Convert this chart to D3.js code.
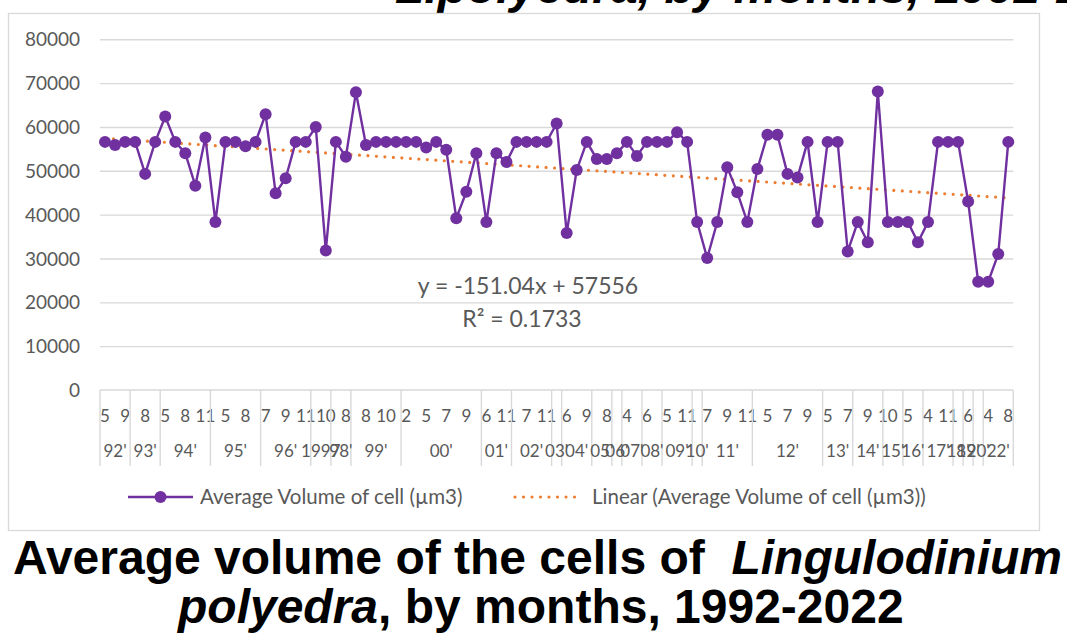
<!DOCTYPE html>
<html>
<head>
<meta charset="utf-8">
<script src="https://cdn.jsdelivr.net/npm/d3@7"></script>
<style>
  body { margin: 0; background: #fff; }
  svg { display: block; }
  .ttl { font-family: "Liberation Sans", Arial, sans-serif; font-weight: bold; white-space: pre; }
  .lab { font-family: Lato, "Open Sans", sans-serif; fill: #595959; }
</style>
</head>
<body>
<script>
// valores promedio por muestra (91 muestras, 1992-2022)
var values = [56600,55900,56600,56600,49300,56600,62400,56600,54000,46600,
  57600,38300,56600,56600,55600,56600,62900,44900,48300,56600,
  56600,60000,31800,56600,53200,67900,55900,56600,56600,56600,
  56600,56600,55300,56600,54800,39200,45200,54000,38300,54000,
  52000,56600,56600,56600,56600,60800,35800,50200,56600,52700,
  52700,54000,56600,53400,56600,56600,56600,58800,56600,38300,
  30100,38300,50800,45100,38300,50400,58200,58200,49300,48500,
  56600,38300,56600,56600,31600,38300,33700,68100,38300,38300,
  38300,33700,38300,56600,56600,56600,43000,24700,24700,31000,
  56600];

// etiquetas de mes visibles (una de cada dos categorias)
var monthTicks = ["5","9","8","5","8","11","5","8","7","9","11","10","8","8","10","2",
  "5","7","9","6","11","7","11","6","9","8","4","6","5","11","7","9","11",
  "5","7","9","5","7","9","10","5","4","11","6","4","8"];

// grupos de años y numero de muestras en cada uno
var yearLabels = ["92'","93'","94'","95'","96'","1997","98'","99'","00'","01'","02'","03'",
  "04'","05'","06'","07'","08'","09'","10'","11'","12'","13'","14'","15'","16'","17'",
  "18'","19'","20'","22'"];
var yearSizes = [3,3,5,5,5,2,2,5,8,3,4,1,3,2,1,2,2,3,1,5,7,3,3,2,2,3,1,1,1,3];

// tendencia lineal
var slope = -151.04, intercept = 57556;
var eqText = "y = -151.04x + 57556";
var r2Text = "R² = 0.1733";

var seriesName = "Average Volume of cell (µm3)";

var width = 1067, height = 637;
var purple = "#7030a0", orange = "#ed7d31", grid = "#d9d9d9";

var svg = d3.select("body").append("svg")
  .attr("width", width)
  .attr("height", height);

svg.append("rect").attr("width", width).attr("height", height).attr("fill", "#fff");

// titulo cortado de la diapositiva anterior
svg.append("text")
  .attr("class", "ttl")
  .attr("x", 395).attr("y", 3)
  .attr("font-size", 48)
  .attr("font-style", "italic")
  .text("L.polyedra, by months, 1992-2022");

// marco del grafico
svg.append("rect")
  .attr("x", 8.5).attr("y", 13.5)
  .attr("width", 1031).attr("height", 517)
  .attr("fill", "#fff")
  .attr("stroke", grid)
  .attr("stroke-width", 1.3);

var idx = d3.range(values.length);
var x = d3.scaleBand().domain(idx).range([100, 1013.3]).padding(0);
var bw = x.bandwidth();
var cx = function(i) { return x(i) + bw / 2; };
var y = d3.scaleLinear().domain([0, 80000]).range([390, 39.3]);

// lineas de cuadricula
svg.append("g")
  .attr("transform", "translate(100,0)")
  .call(d3.axisLeft(y).tickValues(d3.range(10000, 80001, 10000)).tickSize(-913.3).tickFormat(""))
  .call(function(g) { g.select(".domain").remove(); })
  .selectAll("line").attr("stroke", grid).attr("stroke-width", 1.4);

// eje y
svg.append("g")
  .attr("transform", "translate(100,0)")
  .call(d3.axisLeft(y).tickValues(d3.range(0, 80001, 10000)).tickSize(0).tickPadding(20)
    .tickFormat(d3.format("d")))
  .call(function(g) { g.select(".domain").remove(); })
  .selectAll("text")
  .attr("class", "lab")
  .attr("font-size", 19)
  .attr("dy", "0.35em");

// eje x: linea base
svg.append("line")
  .attr("x1", 100).attr("x2", 1013.3)
  .attr("y1", y(0)).attr("y2", y(0))
  .attr("stroke", grid).attr("stroke-width", 1.4);

// etiquetas de mes
var xAxis = d3.axisBottom(x)
  .tickValues(idx.filter(function(i) { return i % 2 === 0; }))
  .tickSize(0).tickPadding(0)
  .tickFormat(function(i) { return monthTicks[i / 2]; });
svg.append("g")
  .attr("transform", "translate(0," + y(0) + ")")
  .call(xAxis)
  .call(function(g) { g.select(".domain").remove(); })
  .selectAll("text")
  .attr("class", "lab")
  .attr("font-size", 17)
  .attr("dy", null)
  .attr("y", 31.5);

// grupos de años
var starts = [0];
yearSizes.forEach(function(s, k) { starts.push(starts[k] + s); });
var bounds = starts.map(function(s) { return s < values.length ? x(s) : x(values.length - 1) + bw; });

svg.append("g").selectAll("line")
  .data(bounds)
  .join("line")
  .attr("x1", function(d) { return d; }).attr("x2", function(d) { return d; })
  .attr("y1", y(0)).attr("y2", 466)
  .attr("stroke", grid).attr("stroke-width", 1.4);

svg.append("g").selectAll("text")
  .data(yearLabels)
  .join("text")
  .attr("class", "lab")
  .attr("font-size", 17)
  .attr("text-anchor", "middle")
  .attr("x", function(d, k) { return (bounds[k] + bounds[k + 1]) / 2; })
  .attr("y", 456.5)
  .text(function(d) { return d; });

// linea de tendencia
var trend = [1, values.length].map(function(n) { return { i: n - 1, v: slope * n + intercept }; });
svg.append("path")
  .datum(trend)
  .attr("fill", "none")
  .attr("stroke", orange)
  .attr("stroke-width", 3.2)
  .attr("stroke-linecap", "round")
  .attr("stroke-dasharray", "0 8.5")
  .attr("d", d3.line().x(function(d) { return cx(d.i); }).y(function(d) { return y(d.v); }));

// serie
svg.append("path")
  .datum(values)
  .attr("fill", "none")
  .attr("stroke", purple)
  .attr("stroke-width", 2.4)
  .attr("d", d3.line().x(function(d, i) { return cx(i); }).y(function(d) { return y(d); }));

svg.append("g").selectAll("circle")
  .data(values)
  .join("circle")
  .attr("cx", function(d, i) { return cx(i); })
  .attr("cy", function(d) { return y(d); })
  .attr("r", 6)
  .attr("fill", purple);

// ecuacion
svg.append("text").attr("class", "lab").attr("font-size", 23)
  .attr("text-anchor", "middle").attr("x", 528).attr("y", 294).text(eqText);
svg.append("text").attr("class", "lab").attr("font-size", 23)
  .attr("text-anchor", "middle").attr("x", 522).attr("y", 327).text(r2Text);

// leyenda
var ly = 497;
svg.append("line").attr("x1", 128).attr("x2", 193).attr("y1", ly).attr("y2", ly)
  .attr("stroke", purple).attr("stroke-width", 2.4);
svg.append("circle").attr("cx", 160.5).attr("cy", ly).attr("r", 6).attr("fill", purple);
svg.append("text").attr("class", "lab").attr("font-size", 20.5)
  .attr("x", 200).attr("y", ly + 7).text(seriesName);
svg.append("line").attr("x1", 515).attr("x2", 583).attr("y1", ly).attr("y2", ly)
  .attr("stroke", orange).attr("stroke-width", 3.2)
  .attr("stroke-linecap", "round").attr("stroke-dasharray", "0 8.5");
svg.append("text").attr("class", "lab").attr("font-size", 20.5)
  .attr("x", 592).attr("y", ly + 7).text("Linear (" + seriesName + ")");

// titulo inferior
var t1 = svg.append("text").attr("class", "ttl").attr("font-size", 48)
  .attr("x", 13).attr("y", 574);
t1.append("tspan").text("Average volume of the cells of  ");
t1.append("tspan").attr("font-style", "italic").text("Lingulodinium");
var t2 = svg.append("text").attr("class", "ttl").attr("font-size", 48)
  .attr("x", 178).attr("y", 623);
t2.append("tspan").attr("font-style", "italic").text("polyedra");
t2.append("tspan").text(", by months, 1992-2022");
</script>
</body>
</html>
